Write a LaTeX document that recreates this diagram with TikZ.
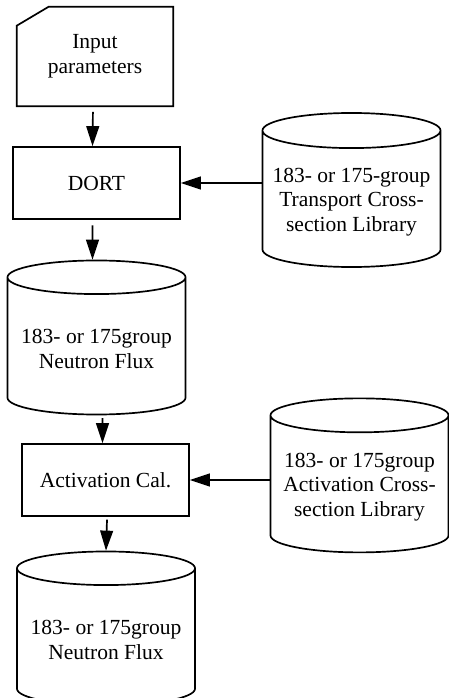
\documentclass[tikz,border=0pt]{standalone}
\usepackage{fontspec}
\setmainfont{Liberation Serif}
\usetikzlibrary{shapes.geometric,arrows.meta}

\begin{document}
\begin{tikzpicture}[x=0.025cm, y=-0.025cm]
\tikzstyle{every node}=[font=\fontsize{15.3}{17.5}\selectfont, align=center]
\tikzstyle{proc}=[draw, line width=1.2pt, minimum width=4.175cm, minimum height=1.8cm]
\tikzstyle{dbase}=[draw, line width=1.2pt, cylinder, shape border rotate=90, aspect=0.21, minimum width=4.45cm, minimum height=3.85cm]
\tikzstyle{flow}=[line width=1.2pt, -{Triangle[length=0.5cm,width=0.32cm]}]
\useasboundingbox (0,0) rectangle (448,698);
% input parameters (card)
  \node[minimum width=3.9cm, minimum height=2.475cm] (inp) at (95,56.5)%
{%
  Input\\parameters
};
\draw[line width=1.2pt] ([yshift=-0.475cm]inp.north west) -- ([xshift=0.8cm]inp.north west) -- (inp.north east) -- (inp.south east) -- (inp.south west) -- cycle;
% DORT
  \node[proc] (dort) at (96.5,183) {DORT};
% transport library
  \node[dbase] (tlib) at (351.5,202)%
{%
  183- or 175-group\\Transport Cross-\\section Library
};
% neutron flux 1
  \node[dbase] (flux1) at (96.5,349)%
{%
  183- or 175group\\Neutron Flux
};
% activation
  \node[proc] (act) at (105.5,480) {Activation Cal.};
% activation library
  \node[dbase] (alib) at (359.5,487)%
{%
  183- or 175group\\Activation Cross-\\section Library
};
% neutron flux 2
  \node[dbase] (flux2) at (106,640)%
{%
  183- or 175group\\Neutron Flux
};
%%%%%%%%%%%%%%%%
\draw[flow, shorten <=4] ([xshift=-0.05cm]inp.south) -- ([xshift=-0.1cm]dort.north);
\draw[flow, shorten <=4] ([xshift=-0.1cm]dort.south) -- ([xshift=-0.1cm]flux1.north);
\draw[flow] (tlib.west |- dort.east) -- (dort.east);
\draw[flow, shorten <=2] ([xshift=0.15cm]flux1.south) -- ([xshift=-0.075cm]act.north);
\draw[flow, shorten <=2] ([xshift=0.04cm]act.south) -- (flux2.north);
\draw[flow] (alib.west |- act.east) -- (act.east);
\end{tikzpicture}
\end{document}
